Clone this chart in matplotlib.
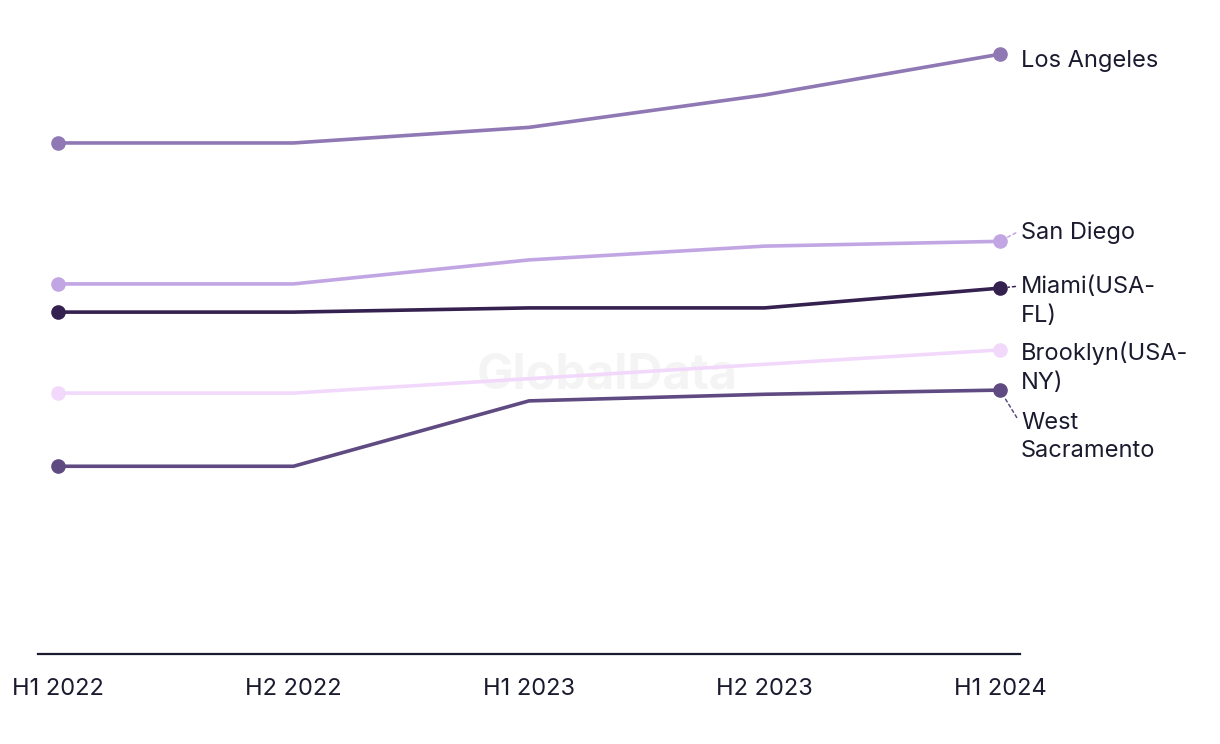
import matplotlib
matplotlib.use('Agg')
import matplotlib.pyplot as plt

plt.rcParams['font.family'] = ['Inter', 'DejaVu Sans']

# half-year periods and values per city (arbitrary units)
periods = ['H1 2022', 'H2 2022', 'H1 2023', 'H2 2023', 'H1 2024']
cities = ['Los Angeles', 'San Diego', 'Miami(USA-\nFL)', 'Brooklyn(USA-\nNY)', 'West\nSacramento']
los_angeles = [85.2, 85.2, 87.8, 93.2, 100.0]
san_diego = [61.7, 61.7, 65.7, 68.0, 68.8]
miami = [57.0, 57.0, 57.7, 57.7, 61.0]
brooklyn = [43.5, 43.5, 45.9, 48.3, 50.7]
west_sacramento = [31.3, 31.3, 42.2, 43.3, 44.0]

series = [los_angeles, san_diego, miami, brooklyn, west_sacramento]
colors = ['#8f78b4', '#c2a6e3', '#35214f', '#f2d9fc', '#5f4a82']
# label offsets (pixels) from the last point, and where a dashed leader starts on the label
label_dy = [-7, 9, -13, -18, -47]
leader = [None, (0, 0.6), (0, 0.8), None, (0, 0.75)]

fig = plt.figure(figsize=(12.2, 7.44), dpi=100)
ax = fig.add_axes([38 / 1220, 90 / 744, 982 / 1220, 634 / 744])

text_color = '#1b1b2f'
x = list(range(len(periods)))
for vals, name, col, dy, rel in zip(series, cities, colors, label_dy, leader):
    ax.plot(x, vals, color=col, lw=2.6, solid_capstyle='round', zorder=3)
    ax.plot([x[0], x[-1]], [vals[0], vals[-1]], 'o', color=col, ms=9.5, zorder=4)
    props = None
    if rel is not None:
        props = dict(arrowstyle='-', color=col, lw=1.1, linestyle=(0, (2, 2)),
                     relpos=rel, shrinkA=2, shrinkB=6)
    ax.annotate(name, xy=(x[-1], vals[-1]), xytext=(21, dy), textcoords='offset pixels',
                ha='left', va='center', fontsize=17, color=text_color,
                linespacing=1.4, arrowprops=props, annotation_clip=False)

# faint watermark
ax.text(0.58, 0.44, 'GlobalData', transform=ax.transAxes, ha='center', va='center',
        fontsize=35, fontweight='bold', color='#f4f4f4', zorder=1)

ax.set_xlim(-0.085, 4.085)
ax.set_ylim(0, 105.7)
ax.set_xticks(x)
ax.set_xticklabels(periods, fontsize=17, color=text_color)
ax.set_yticks([])
for side in ['top', 'right', 'left']:
    ax.spines[side].set_visible(False)
ax.spines['bottom'].set_color(text_color)
ax.spines['bottom'].set_linewidth(1.6)
ax.tick_params(axis='x', length=0, pad=17)

fig.savefig('out.png', dpi=100)
